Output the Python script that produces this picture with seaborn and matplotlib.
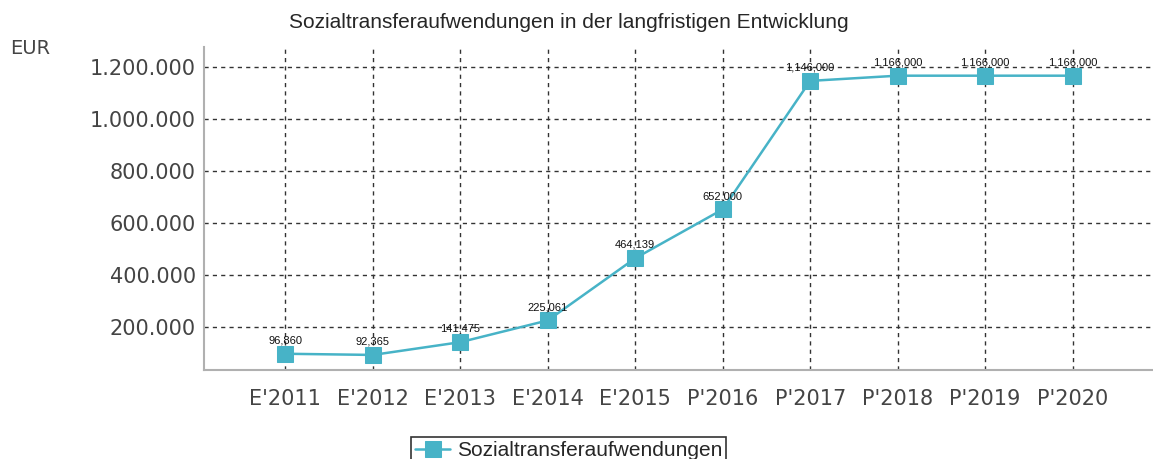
import numpy as np
import pandas as pd
from matplotlib import pyplot as plt
import seaborn as sns

years = ["E'2011", "E'2012", "E'2013", "E'2014", "E'2015",
         "P'2016", "P'2017", "P'2018", "P'2019", "P'2020"]
values = [96860, 92365, 141475, 225061, 464139,
          652000, 1146000, 1166000, 1166000, 1166000]
series_name = "Sozialtransferaufwendungen"
y_ticks = [200000, 400000, 600000, 800000, 1000000, 1200000]

df = pd.DataFrame({"Jahr": years, "Wert": values, "Reihe": series_name})
df["pos"] = np.arange(len(df))

sns.set_style("white")
plt.rcParams['font.family'] = ['DejaVu Sans']

fig = plt.figure(figsize=(11.53, 4.59), dpi=100)
ax = fig.add_axes([0.177, 0.194, 0.823, 0.704])

col = "#47b3c7"
sns.lineplot(data=df, x="pos", y="Wert", hue="Reihe", palette=[col],
             marker="s", markersize=11, markeredgecolor=col, linewidth=1.8,
             ax=ax)

ax.set_xlim(-0.93, 9.92)
ax.set_ylim(34600, 1277000)
ax.set_xticks(df["pos"])
ax.set_xticklabels(years)
ax.set_yticks(y_ticks)
ax.set_yticklabels([f"{v:,}".replace(",", ".") for v in y_ticks])
ax.tick_params(axis="both", labelsize=15, labelcolor="#444444", length=0, pad=6)
ax.tick_params(axis="x", length=7, color="#444444", width=1, pad=7)
ax.set_xlabel("")
ax.set_ylabel("")

ax.grid(True, linestyle=(0, (3, 3)), color="#333333", linewidth=1.0)
for s in ["top", "right"]:
    ax.spines[s].set_visible(False)
for s in ["left", "bottom"]:
    ax.spines[s].set_color("#b0b0b0")
    ax.spines[s].set_linewidth(1.5)

for p, v in zip(df["pos"], df["Wert"]):
    ax.annotate(f"{v:,}", (p, v), xytext=(0, 6), textcoords="offset points",
                ha="center", va="bottom", fontsize=8, color="#111111",
                family="Liberation Sans")

fig.text(0.493, 0.95, "Sozialtransferaufwendungen in der langfristigen Entwicklung",
         ha="center", va="center", fontsize=15, family="Liberation Sans")
fig.text(0.009, 0.895, "EUR", ha="left", va="center", fontsize=14, color="#444444")

leg = ax.legend(loc="upper center", bbox_to_anchor=(0.384, -0.175), frameon=True,
                fancybox=False, edgecolor="black", prop={"family": "Liberation Sans", "size": 15},
                handlelength=1.7, handletextpad=0.3, borderpad=0.2, markerscale=1.1)
leg.get_frame().set_linewidth(1.2)

fig.savefig("out.png", dpi=100)
